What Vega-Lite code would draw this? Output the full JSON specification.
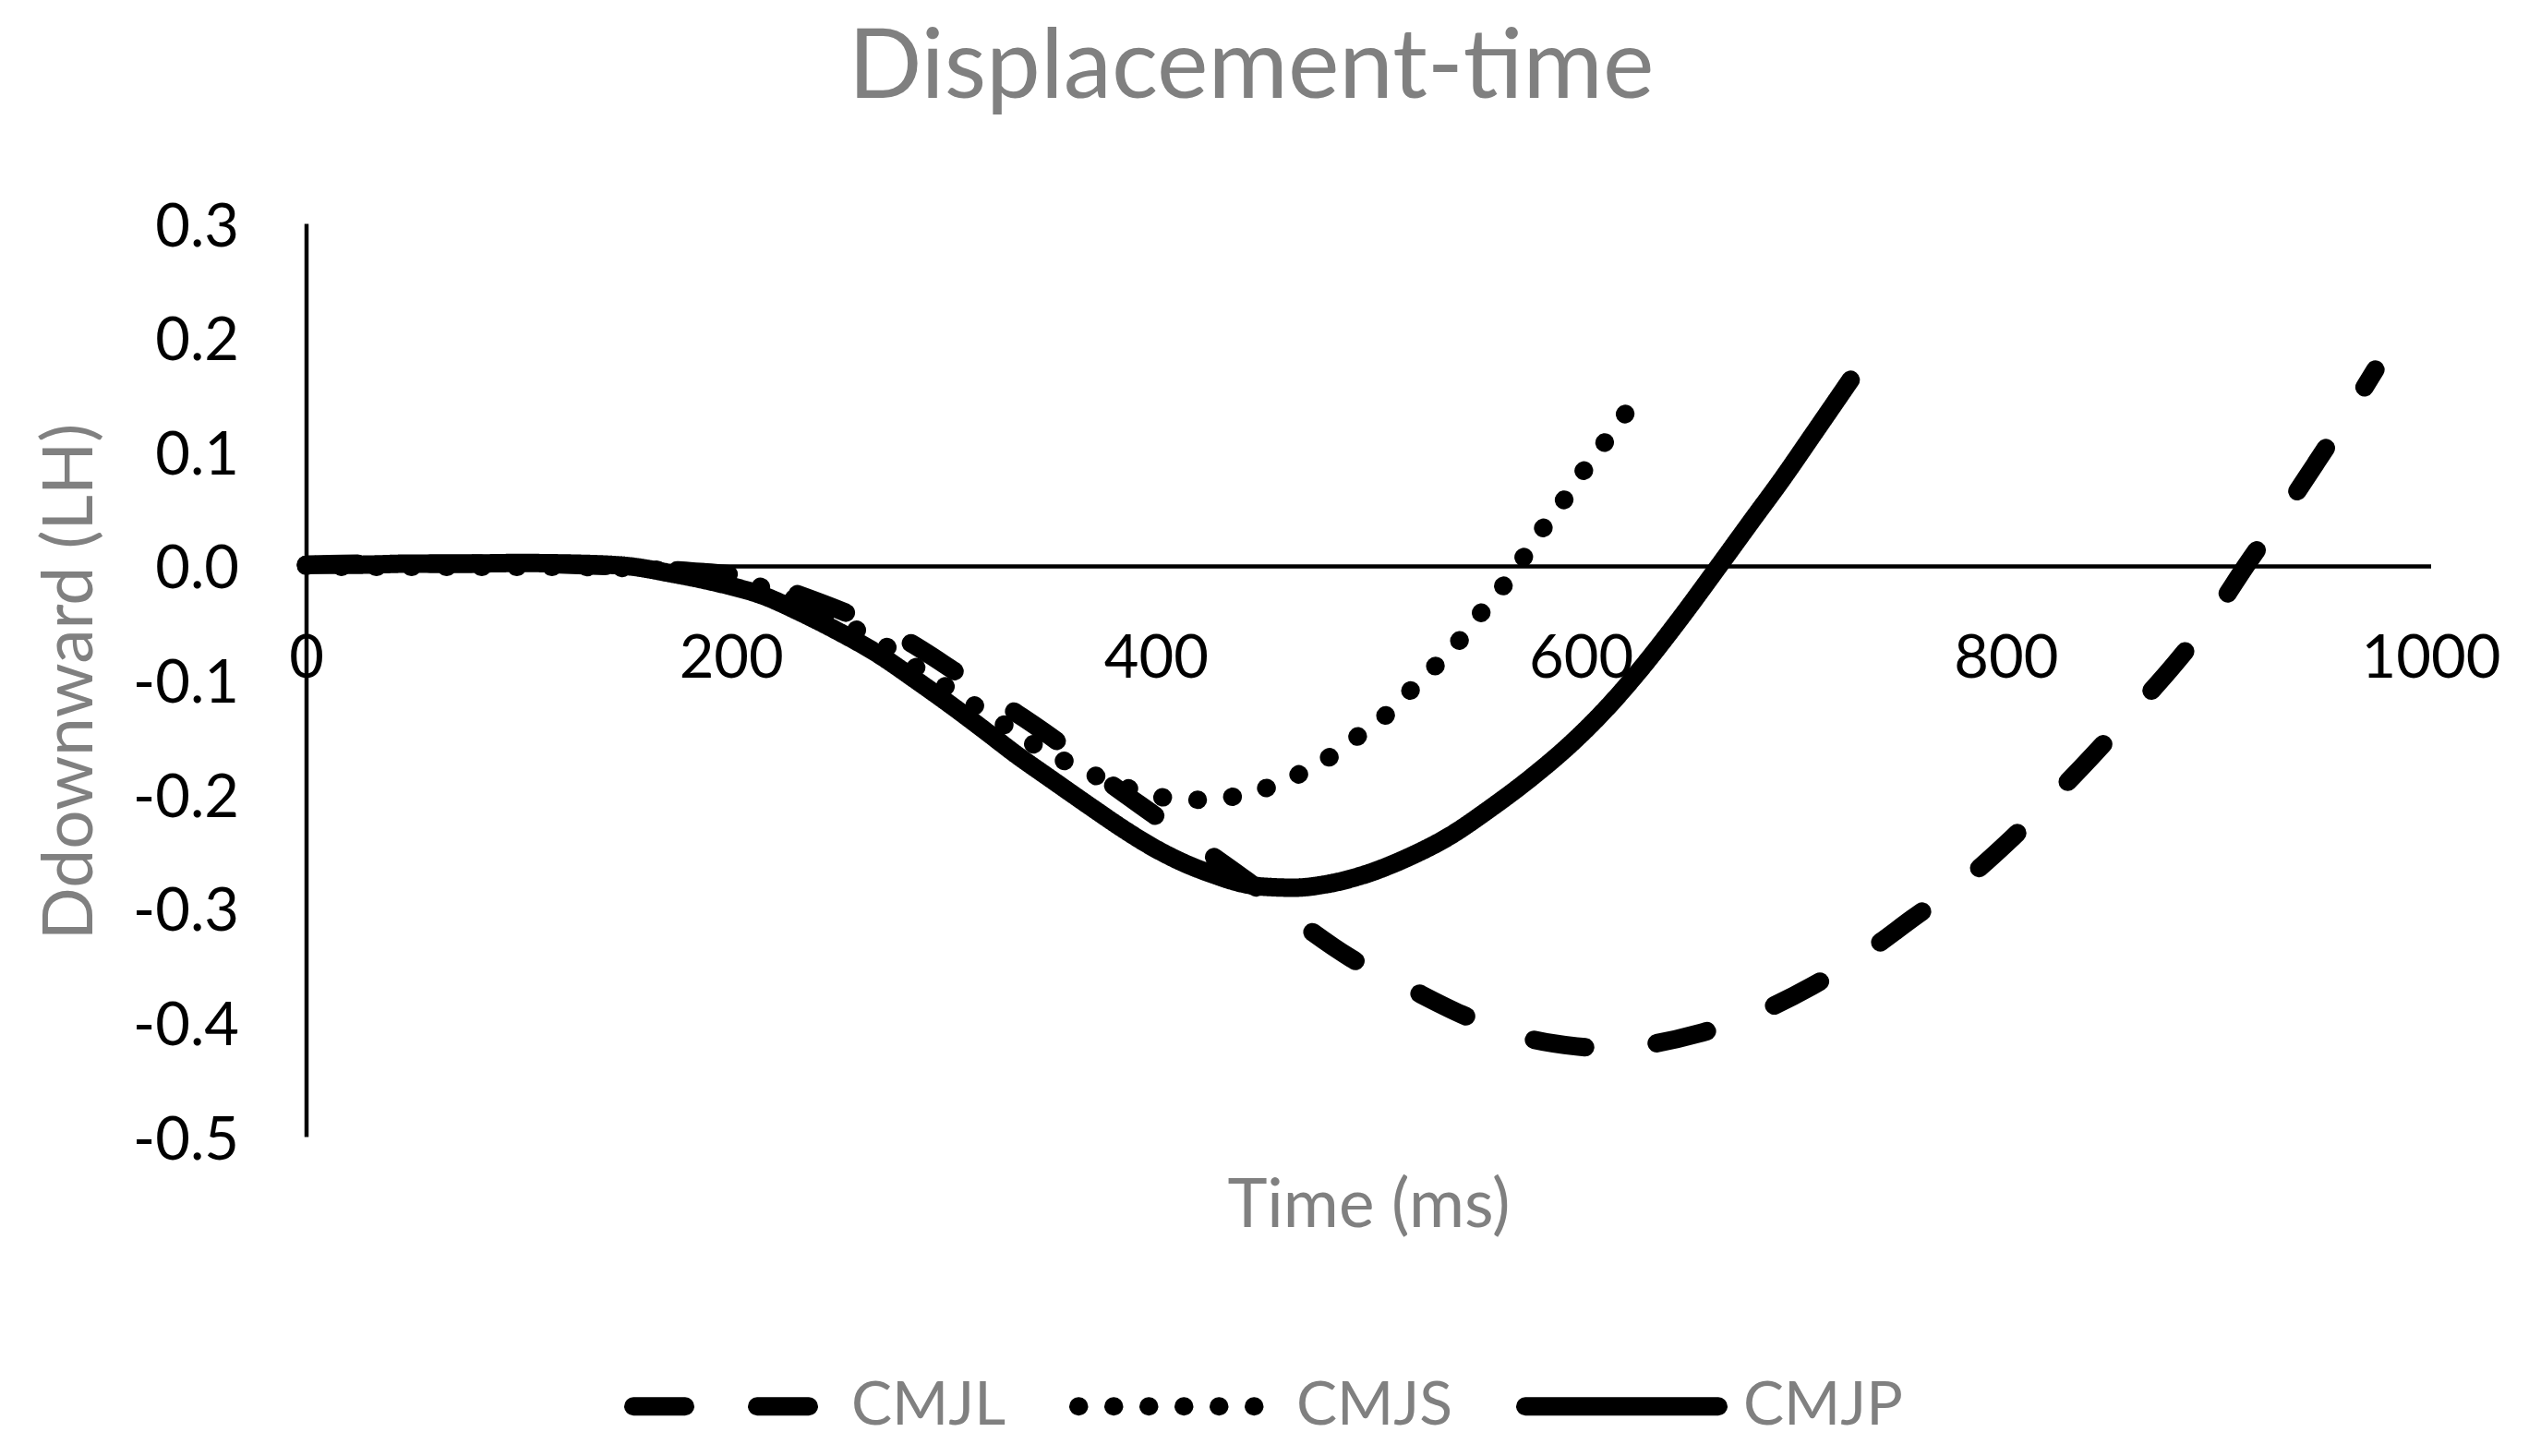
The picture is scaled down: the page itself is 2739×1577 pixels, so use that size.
{
  "$schema": "https://vega.github.io/schema/vega-lite/v6.json",
  "width": 2301,
  "height": 989,
  "autosize": {"type": "none"},
  "padding": {"left": 331.5, "top": 242, "right": 106.5, "bottom": 346},
  "background": "white",
  "config": {"font": "Lato", "view": {"stroke": null}},
  "title": {
    "text": "Displacement-time",
    "font": "Lato",
    "fontSize": 105,
    "fontWeight": "normal",
    "color": "#808080",
    "anchor": "middle",
    "frame": "group",
    "baseline": "alphabetic",
    "dx": -127,
    "offset": 3
  },
  "data": {
    "values": [
      {"t": 0, "v": 0.001, "s": "CMJL"}, {"t": 25, "v": 0.002, "s": "CMJL"}, {"t": 50, "v": 0.002, "s": "CMJL"}, {"t": 75, "v": 0.002, "s": "CMJL"}, {"t": 100, "v": 0.002, "s": "CMJL"}, {"t": 125, "v": 0.001, "s": "CMJL"}, {"t": 150, "v": -0.001, "s": "CMJL"}, {"t": 175, "v": -0.004, "s": "CMJL"}, {"t": 208, "v": -0.010, "s": "CMJL"}, {"t": 230, "v": -0.024, "s": "CMJL"}, {"t": 254, "v": -0.041, "s": "CMJL"}, {"t": 283, "v": -0.066, "s": "CMJL"}, {"t": 305, "v": -0.092, "s": "CMJL"}, {"t": 332, "v": -0.126, "s": "CMJL"}, {"t": 353, "v": -0.153, "s": "CMJL"}, {"t": 373, "v": -0.183, "s": "CMJL"}, {"t": 399, "v": -0.218, "s": "CMJL"}, {"t": 425, "v": -0.252, "s": "CMJL"}, {"t": 443, "v": -0.276, "s": "CMJL"}, {"t": 470, "v": -0.316, "s": "CMJL"}, {"t": 492, "v": -0.344, "s": "CMJL"}, {"t": 518, "v": -0.369, "s": "CMJL"}, {"t": 544, "v": -0.393, "s": "CMJL"}, {"t": 571, "v": -0.412, "s": "CMJL"}, {"t": 598, "v": -0.421, "s": "CMJL"}, {"t": 615, "v": -0.423, "s": "CMJL"}, {"t": 630, "v": -0.420, "s": "CMJL"}, {"t": 655, "v": -0.410, "s": "CMJL"}, {"t": 684, "v": -0.391, "s": "CMJL"}, {"t": 709, "v": -0.368, "s": "CMJL"}, {"t": 734, "v": -0.339, "s": "CMJL"}, {"t": 756, "v": -0.309, "s": "CMJL"}, {"t": 781, "v": -0.275, "s": "CMJL"}, {"t": 801, "v": -0.242, "s": "CMJL"}, {"t": 822, "v": -0.203, "s": "CMJL"}, {"t": 841, "v": -0.166, "s": "CMJL"}, {"t": 861, "v": -0.125, "s": "CMJL"}, {"t": 880, "v": -0.085, "s": "CMJL"}, {"t": 898, "v": -0.042, "s": "CMJL"}, {"t": 913, "v": 0.0, "s": "CMJL"}, {"t": 931, "v": 0.048, "s": "CMJL"}, {"t": 946, "v": 0.090, "s": "CMJL"}, {"t": 960, "v": 0.130, "s": "CMJL"}, {"t": 974, "v": 0.172, "s": "CMJL"},

      {"t": 0, "v": 0.0, "s": "CMJS"}, {"t": 25, "v": -0.001, "s": "CMJS"}, {"t": 50, "v": -0.001, "s": "CMJS"}, {"t": 75, "v": -0.001, "s": "CMJS"}, {"t": 100, "v": -0.001, "s": "CMJS"}, {"t": 125, "v": -0.001, "s": "CMJS"}, {"t": 150, "v": -0.002, "s": "CMJS"}, {"t": 175, "v": -0.005, "s": "CMJS"}, {"t": 200, "v": -0.012, "s": "CMJS"}, {"t": 220, "v": -0.022, "s": "CMJS"}, {"t": 240, "v": -0.038, "s": "CMJS"}, {"t": 260, "v": -0.057, "s": "CMJS"}, {"t": 275, "v": -0.073, "s": "CMJS"}, {"t": 288, "v": -0.090, "s": "CMJS"}, {"t": 302, "v": -0.107, "s": "CMJS"}, {"t": 316, "v": -0.124, "s": "CMJS"}, {"t": 330, "v": -0.141, "s": "CMJS"}, {"t": 343, "v": -0.157, "s": "CMJS"}, {"t": 358, "v": -0.172, "s": "CMJS"}, {"t": 373, "v": -0.185, "s": "CMJS"}, {"t": 389, "v": -0.196, "s": "CMJS"}, {"t": 404, "v": -0.203, "s": "CMJS"}, {"t": 421, "v": -0.205, "s": "CMJS"}, {"t": 437, "v": -0.202, "s": "CMJS"}, {"t": 453, "v": -0.194, "s": "CMJS"}, {"t": 468, "v": -0.182, "s": "CMJS"}, {"t": 483, "v": -0.166, "s": "CMJS"}, {"t": 496, "v": -0.148, "s": "CMJS"}, {"t": 510, "v": -0.128, "s": "CMJS"}, {"t": 521, "v": -0.107, "s": "CMJS"}, {"t": 533, "v": -0.085, "s": "CMJS"}, {"t": 544, "v": -0.063, "s": "CMJS"}, {"t": 554, "v": -0.039, "s": "CMJS"}, {"t": 565, "v": -0.014, "s": "CMJS"}, {"t": 574, "v": 0.010, "s": "CMJS"}, {"t": 583, "v": 0.035, "s": "CMJS"}, {"t": 593, "v": 0.060, "s": "CMJS"}, {"t": 602, "v": 0.085, "s": "CMJS"}, {"t": 612, "v": 0.110, "s": "CMJS"}, {"t": 622, "v": 0.136, "s": "CMJS"},

      {"t": 0, "v": 0.001, "s": "CMJP"}, {"t": 25, "v": 0.001, "s": "CMJP"}, {"t": 50, "v": 0.002, "s": "CMJP"}, {"t": 75, "v": 0.002, "s": "CMJP"}, {"t": 100, "v": 0.0025, "s": "CMJP"}, {"t": 125, "v": 0.002, "s": "CMJP"}, {"t": 150, "v": 0.0, "s": "CMJP"}, {"t": 173, "v": -0.007, "s": "CMJP"}, {"t": 196, "v": -0.016, "s": "CMJP"}, {"t": 215, "v": -0.026, "s": "CMJP"}, {"t": 233, "v": -0.041, "s": "CMJP"}, {"t": 250, "v": -0.057, "s": "CMJP"}, {"t": 269, "v": -0.077, "s": "CMJP"}, {"t": 287, "v": -0.100, "s": "CMJP"}, {"t": 305, "v": -0.124, "s": "CMJP"}, {"t": 320, "v": -0.145, "s": "CMJP"}, {"t": 334, "v": -0.165, "s": "CMJP"}, {"t": 350, "v": -0.186, "s": "CMJP"}, {"t": 370, "v": -0.212, "s": "CMJP"}, {"t": 385, "v": -0.231, "s": "CMJP"}, {"t": 399, "v": -0.247, "s": "CMJP"}, {"t": 414, "v": -0.261, "s": "CMJP"}, {"t": 428, "v": -0.271, "s": "CMJP"}, {"t": 440, "v": -0.278, "s": "CMJP"}, {"t": 450, "v": -0.281, "s": "CMJP"}, {"t": 465, "v": -0.282, "s": "CMJP"}, {"t": 480, "v": -0.279, "s": "CMJP"}, {"t": 499, "v": -0.270, "s": "CMJP"}, {"t": 518, "v": -0.256, "s": "CMJP"}, {"t": 538, "v": -0.237, "s": "CMJP"}, {"t": 557, "v": -0.213, "s": "CMJP"}, {"t": 577, "v": -0.185, "s": "CMJP"}, {"t": 597, "v": -0.153, "s": "CMJP"}, {"t": 612, "v": -0.125, "s": "CMJP"}, {"t": 627, "v": -0.093, "s": "CMJP"}, {"t": 646, "v": -0.048, "s": "CMJP"}, {"t": 665, "v": 0.0, "s": "CMJP"}, {"t": 681, "v": 0.041, "s": "CMJP"}, {"t": 694, "v": 0.074, "s": "CMJP"}, {"t": 710, "v": 0.117, "s": "CMJP"}, {"t": 727, "v": 0.163, "s": "CMJP"}
    ]
  },
  "mark": {
    "type": "line",
    "color": "black",
    "strokeWidth": 20,
    "strokeCap": "round",
    "strokeJoin": "round",
    "interpolate": "monotone"
  },
  "encoding": {
    "x": {
      "field": "t",
      "type": "quantitative",
      "scale": {"domain": [0, 1000], "nice": false, "zero": false},
      "axis": {
        "orient": "bottom",
        "offset": -618,
        "values": [0, 200, 400, 600, 800, 1000],
        "format": "d",
        "grid": false,
        "ticks": false,
        "tickSize": 0,
        "domainColor": "black",
        "domainWidth": 4.5,
        "labelFont": "Lato",
        "labelFontSize": 65,
        "labelColor": "black",
        "labelPadding": 69,
        "labelFlush": false,
        "labelOverlap": false,
        "labelBound": false,
        "title": "Time (ms)",
        "titleFont": "Lato",
        "titleFontSize": 73,
        "titleFontWeight": "normal",
        "titleColor": "#808080",
        "titleX": 1150.5,
        "titleY": 715,
        "titleAlign": "center",
        "titleBaseline": "alphabetic"
      }
    },
    "y": {
      "field": "v",
      "type": "quantitative",
      "scale": {"domain": [-0.5, 0.3], "nice": false, "zero": false},
      "axis": {
        "values": [-0.5, -0.4, -0.3, -0.2, -0.1, 0, 0.1, 0.2, 0.3],
        "labelExpr": "replace(format(datum.value, '.1f'), '\u2212', '-')",
        "grid": false,
        "ticks": false,
        "tickSize": 0,
        "domainColor": "black",
        "domainWidth": 4.5,
        "labelFont": "Lato",
        "labelFontSize": 65,
        "labelColor": "black",
        "labelPadding": 73,
        "labelOffset": 4,
        "labelFlush": false,
        "labelOverlap": false,
        "labelBound": false,
        "title": "Ddownward (LH)",
        "titleFont": "Lato",
        "titleFontSize": 75,
        "titleFontWeight": "normal",
        "titleColor": "#808080",
        "titleAngle": 270,
        "titleX": -255,
        "titleY": 496,
        "titleAlign": "center",
        "titleBaseline": "middle"
      }
    },
    "strokeDash": {
      "field": "s",
      "type": "nominal",
      "scale": {
        "domain": ["CMJL", "CMJS", "CMJP"],
        "range": [[56, 78], [0.5, 37.5], [1, 0]]
      },
      "legend": {
        "title": null,
        "orient": "none",
        "direction": "horizontal",
        "legendX": 344.5,
        "legendY": 1166.5,
        "padding": 0,
        "symbolType": "stroke",
        "symbolSize": 43681,
        "symbolStrokeWidth": 20,
        "symbolStrokeColor": "black",
        "labelFont": "Lato",
        "labelFontSize": 66,
        "labelColor": "#808080",
        "labelOffset": 17,
        "labelLimit": 0,
        "columnPadding": 38,
        "encode": {"symbols": {"update": {"strokeCap": {"value": "round"}}}}
      }
    }
  }
}
